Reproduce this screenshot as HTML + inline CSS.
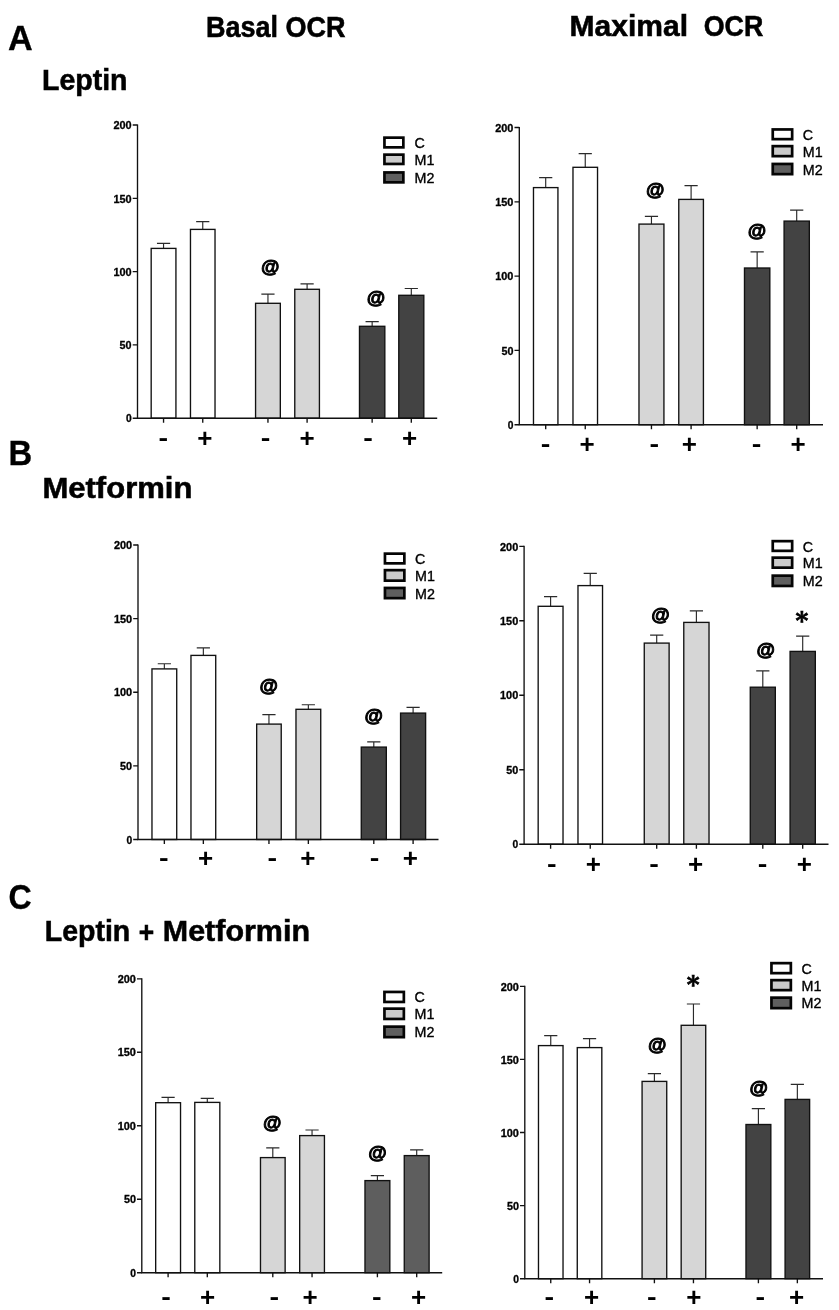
<!DOCTYPE html>
<html lang="en"><head><meta charset="utf-8"><title>Basal and Maximal OCR</title>
<style>html,body{margin:0;padding:0;background:#fff}svg{display:block}text{font-family:"Liberation Sans",Arial,sans-serif;fill:#000}.h{font-weight:700;font-size:29.4px;stroke:#000;stroke-width:.55px}.pl{font-weight:700;font-size:34.2px;stroke:#000;stroke-width:.3px}.tk{font-weight:700;font-size:10.2px;text-anchor:end;stroke:#000;stroke-width:.3px}.lg{font-size:14.3px;stroke:#000;stroke-width:.35px}.at{font-weight:700;font-style:italic;font-size:18.8px;text-anchor:middle;stroke:#000;stroke-width:1px}.st{font-family:"DejaVu Serif",serif;font-weight:700;font-size:24.5px;text-anchor:middle;stroke:#000;stroke-width:.7px}.pm{font-weight:700;text-anchor:middle}.ln{stroke:#111;stroke-width:1.35;fill:none}.eb{stroke:#2a2a2a;stroke-width:1.15;fill:none}</style></head><body>
<svg width="839" height="1310" viewBox="0 0 839 1310">
<rect width="839" height="1310" fill="#fff"/>
<text class="h" x="206" y="37" textLength="139.5" lengthAdjust="spacingAndGlyphs">Basal OCR</text>
<text class="h" y="36.4"><tspan x="569.6" textLength="118.5" lengthAdjust="spacingAndGlyphs">Maximal</tspan> <tspan x="703.8" textLength="59.5" lengthAdjust="spacingAndGlyphs">OCR</tspan></text>
<text class="pl" x="8" y="50">A</text>
<text class="pl" x="8.6" y="465" textLength="23.7" lengthAdjust="spacingAndGlyphs">B</text>
<text class="pl" x="8.4" y="909.4" textLength="23.2" lengthAdjust="spacingAndGlyphs">C</text>
<text class="h" x="42" y="89.6" textLength="85.5" lengthAdjust="spacingAndGlyphs">Leptin</text>
<text class="h" x="42.4" y="497.6" textLength="150" lengthAdjust="spacingAndGlyphs">Metformin</text>
<text class="h" y="941.2"><tspan x="44.8" textLength="85.5" lengthAdjust="spacingAndGlyphs">Leptin</tspan> <tspan x="138.8" y="942.4" textLength="15.4" lengthAdjust="spacingAndGlyphs">+</tspan> <tspan x="162.8" y="941.2" textLength="147.2" lengthAdjust="spacingAndGlyphs">Metformin</tspan></text>
<g>
<path class="eb" d="M163.55 248.40V243.40M156.95 243.40H170.15"/>
<rect x="151.18" y="248.40" width="24.75" height="169.80" fill="#ffffff" stroke="#111" stroke-width="1.35"/>
<path class="eb" d="M202.75 229.40V221.60M196.15 221.60H209.35"/>
<rect x="190.47" y="229.40" width="24.55" height="188.80" fill="#ffffff" stroke="#111" stroke-width="1.35"/>
<path class="eb" d="M267.95 303.30V294.10M261.35 294.10H274.55"/>
<rect x="255.57" y="303.30" width="24.75" height="114.90" fill="#d6d6d6" stroke="#111" stroke-width="1.35"/>
<path class="eb" d="M307.10 289.30V283.80M300.50 283.80H313.70"/>
<rect x="294.77" y="289.30" width="24.65" height="128.90" fill="#d6d6d6" stroke="#111" stroke-width="1.35"/>
<path class="eb" d="M372.15 326.30V321.60M365.55 321.60H378.75"/>
<rect x="359.48" y="326.30" width="25.35" height="91.90" fill="#434343" stroke="#111" stroke-width="1.35"/>
<path class="eb" d="M411.30 295.30V288.50M404.70 288.50H417.90"/>
<rect x="398.77" y="295.30" width="25.05" height="122.90" fill="#434343" stroke="#111" stroke-width="1.35"/>
<path class="ln" d="M137.50 124.40V418.20H437.20"/>
<text class="tk" x="131.60" y="422.40" textLength="5.7" lengthAdjust="spacingAndGlyphs">0</text>
<text class="tk" x="131.60" y="349.10" textLength="12" lengthAdjust="spacingAndGlyphs">50</text>
<text class="tk" x="131.60" y="275.80" textLength="18.2" lengthAdjust="spacingAndGlyphs">100</text>
<text class="tk" x="131.60" y="202.50" textLength="18.2" lengthAdjust="spacingAndGlyphs">150</text>
<text class="tk" x="131.60" y="129.20" textLength="18.2" lengthAdjust="spacingAndGlyphs">200</text>
<text class="pm" style="font-size:24px" x="163.20" y="446.10" textLength="9.6" lengthAdjust="spacingAndGlyphs">-</text>
<text class="pm" style="font-size:26px" x="204.80" y="447.04">+</text>
<text class="pm" style="font-size:24px" x="265.60" y="446.10" textLength="9.6" lengthAdjust="spacingAndGlyphs">-</text>
<text class="pm" style="font-size:26px" x="307.20" y="447.04">+</text>
<text class="pm" style="font-size:24px" x="368.00" y="446.10" textLength="9.6" lengthAdjust="spacingAndGlyphs">-</text>
<text class="pm" style="font-size:26px" x="409.70" y="447.04">+</text>
<path class="ln" d="M132.70 418.20H137.50M132.70 344.90H137.50M132.70 271.60H137.50M132.70 198.30H137.50M132.70 125.00H137.50M163.55 418.20V422.80M202.75 418.20V422.80M267.95 418.20V422.80M307.10 418.20V422.80M372.15 418.20V422.80M411.30 418.20V422.80"/>
<text class="at" x="270.00" y="273.40">@</text>
<text class="at" x="375.70" y="303.90">@</text>
<rect x="384.45" y="137.65" width="18.90" height="9.70" fill="#ffffff" stroke="#050505" stroke-width="2.7"/>
<text class="lg" x="414.50" y="148.00">C</text>
<rect x="384.45" y="154.65" width="18.90" height="9.30" fill="#cbcbcb" stroke="#050505" stroke-width="2.7"/>
<text class="lg" x="414.50" y="164.80">M1</text>
<rect x="384.45" y="172.45" width="18.90" height="9.90" fill="#5f5f5f" stroke="#050505" stroke-width="2.7"/>
<text class="lg" x="414.50" y="182.90">M2</text>
</g>
<g>
<path class="eb" d="M545.70 187.60V177.60M539.10 177.60H552.30"/>
<rect x="533.48" y="187.60" width="24.45" height="237.10" fill="#ffffff" stroke="#111" stroke-width="1.35"/>
<path class="eb" d="M585.25 167.30V153.60M578.65 153.60H591.85"/>
<rect x="572.98" y="167.30" width="24.55" height="257.40" fill="#ffffff" stroke="#111" stroke-width="1.35"/>
<path class="eb" d="M651.45 224.10V216.40M644.85 216.40H658.05"/>
<rect x="638.98" y="224.10" width="24.95" height="200.60" fill="#d6d6d6" stroke="#111" stroke-width="1.35"/>
<path class="eb" d="M691.10 199.40V185.60M684.50 185.60H697.70"/>
<rect x="678.77" y="199.40" width="24.65" height="225.30" fill="#d6d6d6" stroke="#111" stroke-width="1.35"/>
<path class="eb" d="M757.15 268.00V251.90M750.55 251.90H763.75"/>
<rect x="744.48" y="268.00" width="25.35" height="156.70" fill="#434343" stroke="#111" stroke-width="1.35"/>
<path class="eb" d="M796.70 221.10V210.10M790.10 210.10H803.30"/>
<rect x="784.08" y="221.10" width="25.25" height="203.60" fill="#434343" stroke="#111" stroke-width="1.35"/>
<path class="ln" d="M519.30 126.90V424.70H823.00"/>
<text class="tk" x="513.40" y="428.90" textLength="5.7" lengthAdjust="spacingAndGlyphs">0</text>
<text class="tk" x="513.40" y="354.60" textLength="12" lengthAdjust="spacingAndGlyphs">50</text>
<text class="tk" x="513.40" y="280.30" textLength="18.2" lengthAdjust="spacingAndGlyphs">100</text>
<text class="tk" x="513.40" y="206.00" textLength="18.2" lengthAdjust="spacingAndGlyphs">150</text>
<text class="tk" x="513.40" y="131.70" textLength="18.2" lengthAdjust="spacingAndGlyphs">200</text>
<text class="pm" style="font-size:24px" x="545.60" y="451.60" textLength="9.6" lengthAdjust="spacingAndGlyphs">-</text>
<text class="pm" style="font-size:26px" x="587.00" y="452.54">+</text>
<text class="pm" style="font-size:24px" x="654.20" y="451.60" textLength="9.6" lengthAdjust="spacingAndGlyphs">-</text>
<text class="pm" style="font-size:26px" x="689.40" y="452.54">+</text>
<text class="pm" style="font-size:24px" x="756.50" y="451.60" textLength="9.6" lengthAdjust="spacingAndGlyphs">-</text>
<text class="pm" style="font-size:26px" x="798.20" y="452.54">+</text>
<path class="ln" d="M514.50 424.70H519.30M514.50 350.40H519.30M514.50 276.10H519.30M514.50 201.80H519.30M514.50 127.50H519.30M545.70 424.70V429.30M585.25 424.70V429.30M651.45 424.70V429.30M691.10 424.70V429.30M757.15 424.70V429.30M796.70 424.70V429.30"/>
<text class="at" x="655.00" y="196.00">@</text>
<text class="at" x="756.70" y="237.30">@</text>
<rect x="772.75" y="129.45" width="19.40" height="9.70" fill="#ffffff" stroke="#050505" stroke-width="2.7"/>
<text class="lg" x="802.80" y="139.80">C</text>
<rect x="772.75" y="146.15" width="19.40" height="10.00" fill="#cbcbcb" stroke="#050505" stroke-width="2.7"/>
<text class="lg" x="802.80" y="156.65">M1</text>
<rect x="772.75" y="163.95" width="19.40" height="10.20" fill="#5f5f5f" stroke="#050505" stroke-width="2.7"/>
<text class="lg" x="802.80" y="174.55">M2</text>
</g>
<g>
<path class="eb" d="M164.35 668.90V663.70M157.75 663.70H170.95"/>
<rect x="151.97" y="668.90" width="24.75" height="170.60" fill="#ffffff" stroke="#111" stroke-width="1.35"/>
<path class="eb" d="M203.35 655.40V647.90M196.75 647.90H209.95"/>
<rect x="190.97" y="655.40" width="24.75" height="184.10" fill="#ffffff" stroke="#111" stroke-width="1.35"/>
<path class="eb" d="M268.95 724.10V714.60M262.35 714.60H275.55"/>
<rect x="256.68" y="724.10" width="24.55" height="115.40" fill="#d6d6d6" stroke="#111" stroke-width="1.35"/>
<path class="eb" d="M308.35 709.30V704.70M301.75 704.70H314.95"/>
<rect x="295.98" y="709.30" width="24.75" height="130.20" fill="#d6d6d6" stroke="#111" stroke-width="1.35"/>
<path class="eb" d="M373.80 747.10V741.80M367.20 741.80H380.40"/>
<rect x="361.27" y="747.10" width="25.05" height="92.40" fill="#434343" stroke="#111" stroke-width="1.35"/>
<path class="eb" d="M413.10 713.10V707.30M406.50 707.30H419.70"/>
<rect x="400.57" y="713.10" width="25.05" height="126.40" fill="#434343" stroke="#111" stroke-width="1.35"/>
<path class="ln" d="M138.00 544.40V839.50H438.50"/>
<text class="tk" x="132.10" y="843.70" textLength="5.7" lengthAdjust="spacingAndGlyphs">0</text>
<text class="tk" x="132.10" y="770.08" textLength="12" lengthAdjust="spacingAndGlyphs">50</text>
<text class="tk" x="132.10" y="696.45" textLength="18.2" lengthAdjust="spacingAndGlyphs">100</text>
<text class="tk" x="132.10" y="622.83" textLength="18.2" lengthAdjust="spacingAndGlyphs">150</text>
<text class="tk" x="132.10" y="549.20" textLength="18.2" lengthAdjust="spacingAndGlyphs">200</text>
<text class="pm" style="font-size:24px" x="163.90" y="865.70" textLength="9.6" lengthAdjust="spacingAndGlyphs">-</text>
<text class="pm" style="font-size:26px" x="205.50" y="866.64">+</text>
<text class="pm" style="font-size:24px" x="272.20" y="865.70" textLength="9.6" lengthAdjust="spacingAndGlyphs">-</text>
<text class="pm" style="font-size:26px" x="307.80" y="866.64">+</text>
<text class="pm" style="font-size:24px" x="374.60" y="865.70" textLength="9.6" lengthAdjust="spacingAndGlyphs">-</text>
<text class="pm" style="font-size:26px" x="410.30" y="866.64">+</text>
<path class="ln" d="M133.20 839.50H138.00M133.20 765.88H138.00M133.20 692.25H138.00M133.20 618.62H138.00M133.20 545.00H138.00M164.35 839.50V844.10M203.35 839.50V844.10M268.95 839.50V844.10M308.35 839.50V844.10M373.80 839.50V844.10M413.10 839.50V844.10"/>
<text class="at" x="268.30" y="691.70">@</text>
<text class="at" x="373.40" y="722.20">@</text>
<rect x="384.95" y="553.65" width="19.40" height="9.70" fill="#ffffff" stroke="#050505" stroke-width="2.7"/>
<text class="lg" x="415.00" y="564.00">C</text>
<rect x="384.95" y="570.15" width="19.40" height="10.50" fill="#cbcbcb" stroke="#050505" stroke-width="2.7"/>
<text class="lg" x="415.00" y="580.90">M1</text>
<rect x="384.95" y="587.95" width="19.40" height="10.20" fill="#5f5f5f" stroke="#050505" stroke-width="2.7"/>
<text class="lg" x="415.00" y="598.55">M2</text>
</g>
<g>
<path class="eb" d="M550.60 606.30V596.60M544.00 596.60H557.20"/>
<rect x="538.17" y="606.30" width="24.85" height="237.90" fill="#ffffff" stroke="#111" stroke-width="1.35"/>
<path class="eb" d="M590.25 585.60V573.30M583.65 573.30H596.85"/>
<rect x="577.98" y="585.60" width="24.55" height="258.60" fill="#ffffff" stroke="#111" stroke-width="1.35"/>
<path class="eb" d="M656.70 643.10V635.10M650.10 635.10H663.30"/>
<rect x="644.27" y="643.10" width="24.85" height="201.10" fill="#d6d6d6" stroke="#111" stroke-width="1.35"/>
<path class="eb" d="M696.40 622.40V610.90M689.80 610.90H703.00"/>
<rect x="683.77" y="622.40" width="25.25" height="221.80" fill="#d6d6d6" stroke="#111" stroke-width="1.35"/>
<path class="eb" d="M762.80 687.20V670.90M756.20 670.90H769.40"/>
<rect x="750.27" y="687.20" width="25.05" height="157.00" fill="#434343" stroke="#111" stroke-width="1.35"/>
<path class="eb" d="M802.70 651.40V636.10M796.10 636.10H809.30"/>
<rect x="790.08" y="651.40" width="25.25" height="192.80" fill="#434343" stroke="#111" stroke-width="1.35"/>
<path class="ln" d="M524.10 545.70V844.20H828.50"/>
<text class="tk" x="518.20" y="848.40" textLength="5.7" lengthAdjust="spacingAndGlyphs">0</text>
<text class="tk" x="518.20" y="773.93" textLength="12" lengthAdjust="spacingAndGlyphs">50</text>
<text class="tk" x="518.20" y="699.45" textLength="18.2" lengthAdjust="spacingAndGlyphs">100</text>
<text class="tk" x="518.20" y="624.98" textLength="18.2" lengthAdjust="spacingAndGlyphs">150</text>
<text class="tk" x="518.20" y="550.50" textLength="18.2" lengthAdjust="spacingAndGlyphs">200</text>
<text class="pm" style="font-size:24px" x="551.70" y="871.70" textLength="9.6" lengthAdjust="spacingAndGlyphs">-</text>
<text class="pm" style="font-size:26px" x="593.40" y="872.64">+</text>
<text class="pm" style="font-size:24px" x="654.10" y="871.70" textLength="9.6" lengthAdjust="spacingAndGlyphs">-</text>
<text class="pm" style="font-size:26px" x="695.70" y="872.64">+</text>
<text class="pm" style="font-size:24px" x="762.50" y="871.70" textLength="9.6" lengthAdjust="spacingAndGlyphs">-</text>
<text class="pm" style="font-size:26px" x="804.40" y="872.64">+</text>
<path class="ln" d="M519.30 844.20H524.10M519.30 769.73H524.10M519.30 695.25H524.10M519.30 620.77H524.10M519.30 546.30H524.10M550.60 844.20V848.80M590.25 844.20V848.80M656.70 844.20V848.80M696.40 844.20V848.80M762.80 844.20V848.80M802.70 844.20V848.80"/>
<text class="at" x="660.10" y="621.00">@</text>
<text class="at" x="765.40" y="656.00">@</text>
<text class="st" x="801.80" y="629.00">*</text>
<rect x="772.75" y="541.15" width="19.40" height="9.70" fill="#ffffff" stroke="#050505" stroke-width="2.7"/>
<text class="lg" x="802.80" y="551.50">C</text>
<rect x="772.75" y="557.65" width="19.40" height="10.00" fill="#cbcbcb" stroke="#050505" stroke-width="2.7"/>
<text class="lg" x="802.80" y="568.15">M1</text>
<rect x="772.75" y="575.65" width="19.40" height="10.30" fill="#5f5f5f" stroke="#050505" stroke-width="2.7"/>
<text class="lg" x="802.80" y="586.30">M2</text>
</g>
<g>
<path class="eb" d="M168.10 1102.70V1097.40M161.50 1097.40H174.70"/>
<rect x="155.68" y="1102.70" width="24.85" height="170.00" fill="#ffffff" stroke="#111" stroke-width="1.35"/>
<path class="eb" d="M207.30 1102.40V1098.40M200.70 1098.40H213.90"/>
<rect x="194.78" y="1102.40" width="25.05" height="170.30" fill="#ffffff" stroke="#111" stroke-width="1.35"/>
<path class="eb" d="M272.80 1157.60V1147.80M266.20 1147.80H279.40"/>
<rect x="260.48" y="1157.60" width="24.65" height="115.10" fill="#d6d6d6" stroke="#111" stroke-width="1.35"/>
<path class="eb" d="M312.05 1135.60V1130.00M305.45 1130.00H318.65"/>
<rect x="299.68" y="1135.60" width="24.75" height="137.10" fill="#d6d6d6" stroke="#111" stroke-width="1.35"/>
<path class="eb" d="M377.40 1180.60V1175.60M370.80 1175.60H384.00"/>
<rect x="364.98" y="1180.60" width="24.85" height="92.10" fill="#5e5e5e" stroke="#111" stroke-width="1.35"/>
<path class="eb" d="M416.70 1155.60V1149.80M410.10 1149.80H423.30"/>
<rect x="404.27" y="1155.60" width="24.85" height="117.10" fill="#5e5e5e" stroke="#111" stroke-width="1.35"/>
<path class="ln" d="M141.80 978.20V1272.70H442.20"/>
<text class="tk" x="135.90" y="1276.90" textLength="5.7" lengthAdjust="spacingAndGlyphs">0</text>
<text class="tk" x="135.90" y="1203.42" textLength="12" lengthAdjust="spacingAndGlyphs">50</text>
<text class="tk" x="135.90" y="1129.95" textLength="18.2" lengthAdjust="spacingAndGlyphs">100</text>
<text class="tk" x="135.90" y="1056.48" textLength="18.2" lengthAdjust="spacingAndGlyphs">150</text>
<text class="tk" x="135.90" y="983.00" textLength="18.2" lengthAdjust="spacingAndGlyphs">200</text>
<text class="pm" style="font-size:24px" x="166.10" y="1304.90" textLength="9.6" lengthAdjust="spacingAndGlyphs">-</text>
<text class="pm" style="font-size:26px" x="207.50" y="1305.84">+</text>
<text class="pm" style="font-size:24px" x="274.40" y="1304.90" textLength="9.6" lengthAdjust="spacingAndGlyphs">-</text>
<text class="pm" style="font-size:26px" x="310.00" y="1305.84">+</text>
<text class="pm" style="font-size:24px" x="376.80" y="1304.90" textLength="9.6" lengthAdjust="spacingAndGlyphs">-</text>
<text class="pm" style="font-size:26px" x="418.70" y="1305.84">+</text>
<path class="ln" d="M137.00 1272.70H141.80M137.00 1199.22H141.80M137.00 1125.75H141.80M137.00 1052.28H141.80M137.00 978.80H141.80M168.10 1272.70V1277.30M207.30 1272.70V1277.30M272.80 1272.70V1277.30M312.05 1272.70V1277.30M377.40 1272.70V1277.30M416.70 1272.70V1277.30"/>
<text class="at" x="271.80" y="1129.20">@</text>
<text class="at" x="377.20" y="1159.20">@</text>
<rect x="384.45" y="991.95" width="19.40" height="10.00" fill="#ffffff" stroke="#050505" stroke-width="2.7"/>
<text class="lg" x="414.50" y="1002.45">C</text>
<rect x="384.45" y="1008.65" width="19.40" height="10.30" fill="#cbcbcb" stroke="#050505" stroke-width="2.7"/>
<text class="lg" x="414.50" y="1019.30">M1</text>
<rect x="384.45" y="1026.65" width="19.40" height="10.50" fill="#5f5f5f" stroke="#050505" stroke-width="2.7"/>
<text class="lg" x="414.50" y="1037.40">M2</text>
</g>
<g>
<path class="eb" d="M550.75 1045.60V1035.60M544.15 1035.60H557.35"/>
<rect x="538.48" y="1045.60" width="24.55" height="233.10" fill="#ffffff" stroke="#111" stroke-width="1.35"/>
<path class="eb" d="M589.55 1047.60V1038.60M582.95 1038.60H596.15"/>
<rect x="577.27" y="1047.60" width="24.55" height="231.10" fill="#ffffff" stroke="#111" stroke-width="1.35"/>
<path class="eb" d="M654.40 1081.40V1073.60M647.80 1073.60H661.00"/>
<rect x="642.08" y="1081.40" width="24.65" height="197.30" fill="#d6d6d6" stroke="#111" stroke-width="1.35"/>
<path class="eb" d="M693.45 1025.30V1004.00M686.85 1004.00H700.05"/>
<rect x="681.17" y="1025.30" width="24.55" height="253.40" fill="#d6d6d6" stroke="#111" stroke-width="1.35"/>
<path class="eb" d="M758.40 1124.50V1108.60M751.80 1108.60H765.00"/>
<rect x="745.98" y="1124.50" width="24.85" height="154.20" fill="#434343" stroke="#111" stroke-width="1.35"/>
<path class="eb" d="M797.35 1099.40V1084.40M790.75 1084.40H803.95"/>
<rect x="785.08" y="1099.40" width="24.55" height="179.30" fill="#434343" stroke="#111" stroke-width="1.35"/>
<path class="ln" d="M524.80 985.70V1278.70H823.00"/>
<text class="tk" x="518.90" y="1282.90" textLength="5.7" lengthAdjust="spacingAndGlyphs">0</text>
<text class="tk" x="518.90" y="1209.80" textLength="12" lengthAdjust="spacingAndGlyphs">50</text>
<text class="tk" x="518.90" y="1136.70" textLength="18.2" lengthAdjust="spacingAndGlyphs">100</text>
<text class="tk" x="518.90" y="1063.60" textLength="18.2" lengthAdjust="spacingAndGlyphs">150</text>
<text class="tk" x="518.90" y="990.50" textLength="18.2" lengthAdjust="spacingAndGlyphs">200</text>
<text class="pm" style="font-size:24px" x="549.40" y="1304.90" textLength="9.6" lengthAdjust="spacingAndGlyphs">-</text>
<text class="pm" style="font-size:26px" x="591.50" y="1305.84">+</text>
<text class="pm" style="font-size:24px" x="651.80" y="1304.90" textLength="9.6" lengthAdjust="spacingAndGlyphs">-</text>
<text class="pm" style="font-size:26px" x="693.80" y="1305.84">+</text>
<text class="pm" style="font-size:24px" x="760.30" y="1304.90" textLength="9.6" lengthAdjust="spacingAndGlyphs">-</text>
<text class="pm" style="font-size:26px" x="796.50" y="1305.84">+</text>
<path class="ln" d="M520.00 1278.70H524.80M520.00 1205.60H524.80M520.00 1132.50H524.80M520.00 1059.40H524.80M520.00 986.30H524.80M550.75 1278.70V1283.30M589.55 1278.70V1283.30M654.40 1278.70V1283.30M693.45 1278.70V1283.30M758.40 1278.70V1283.30M797.35 1278.70V1283.30"/>
<text class="at" x="657.00" y="1051.40">@</text>
<text class="at" x="758.40" y="1093.50">@</text>
<text class="st" x="693.20" y="992.90">*</text>
<rect x="771.45" y="963.15" width="19.40" height="10.00" fill="#ffffff" stroke="#050505" stroke-width="2.7"/>
<text class="lg" x="801.50" y="973.65">C</text>
<rect x="771.45" y="980.15" width="19.40" height="10.00" fill="#cbcbcb" stroke="#050505" stroke-width="2.7"/>
<text class="lg" x="801.50" y="990.65">M1</text>
<rect x="771.45" y="997.65" width="19.40" height="10.50" fill="#5f5f5f" stroke="#050505" stroke-width="2.7"/>
<text class="lg" x="801.50" y="1008.40">M2</text>
</g>
</svg></body></html>
